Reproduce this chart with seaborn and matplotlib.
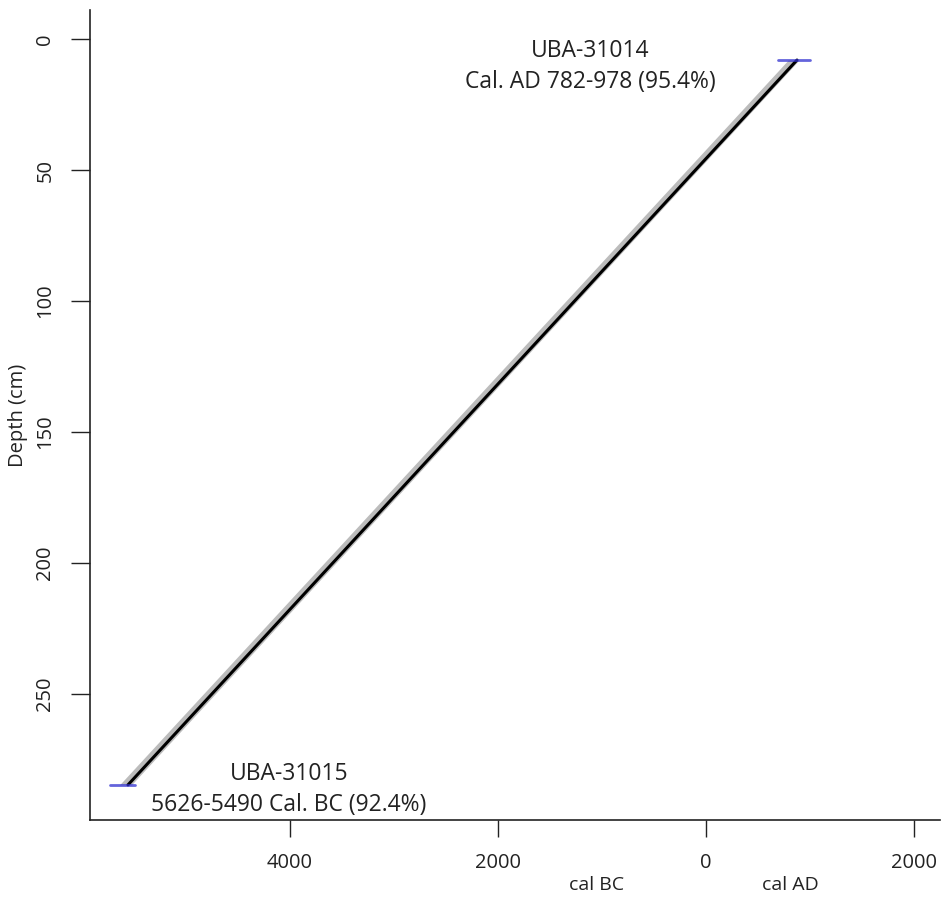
import matplotlib
matplotlib.use("Agg")
import matplotlib.pyplot as plt
import seaborn as sns
import numpy as np
import pandas as pd
from matplotlib.ticker import FuncFormatter

# Data (years: negative = cal BC, positive = cal AD)
depths = [8, 284.7]
age_median = [875, -5558]
age_lo = [790, -5640]
age_hi = [895, -5525]
date_labels = ["UBA-31014\nCal. AD 782-978 (95.4%)", "UBA-31015\n5626-5490 Cal. BC (92.4%)"]
date_ranges = [(692, 1000), (-5731, -5490)]
x_ticks = [-4000, -2000, 0, 2000]
y_ticks = [0, 50, 100, 150, 200, 250]

sns.set_style("ticks")
plt.rcParams['font.family'] = ['Open Sans', 'DejaVu Sans']

fig = plt.figure(figsize=(9.5, 9.01), dpi=100)
ax = fig.add_axes([90/950, 1-820/901, 850/950, 810/901])

ax.fill_betweenx(depths, age_lo, age_hi, color="#bcbcbc", lw=0, zorder=1)
df = pd.DataFrame({"age": age_median, "depth": depths})
sns.lineplot(data=df, x="age", y="depth", color="black", lw=2.2, ax=ax, sort=False, zorder=3)

for d, (a, b) in zip(depths, date_ranges):
    ax.plot([a, b], [d, d], color="#3030d0", lw=2, alpha=0.75, zorder=4)

ax.text(-1110, 10.5, date_labels[0], ha="center", va="center", fontsize=16.5, linespacing=1.4, color="#222222")
ax.text(-4010, 286.5, date_labels[1], ha="center", va="center", fontsize=16.5, linespacing=1.35, color="#222222")

ax.set_xlim(-5923, 2250)
ax.set_ylim(298.1, -11.1)
ax.set_xticks(x_ticks)
ax.set_yticks(y_ticks)
ax.xaxis.set_major_formatter(FuncFormatter(lambda v, p: f"{abs(int(v))}"))
ax.tick_params(axis="x", direction="out", length=12, width=1, pad=12, labelsize=14.5, colors="#222222")
ax.tick_params(axis="y", direction="out", length=14, width=1, pad=11, labelsize=14.5, colors="#222222")
for lbl in ax.get_yticklabels():
    lbl.set_rotation(90)
    lbl.set_va("center")
ax.set_xlabel("")
ax.set_ylabel("Depth (cm)", fontsize=14.5, color="#222222")
ax.yaxis.set_label_coords(-62/850, 0.5)
for s in ["top", "right"]:
    ax.spines[s].set_visible(False)
for s in ["left", "bottom"]:
    ax.spines[s].set_color("#222222")
    ax.spines[s].set_linewidth(1.2)

fig.text(597/950, 1-885/901, "cal BC", ha="center", va="center", fontsize=14, color="#222222")
fig.text(790/950, 1-885/901, "cal AD", ha="center", va="center", fontsize=14, color="#222222")

fig.savefig("out.png", dpi=100)
